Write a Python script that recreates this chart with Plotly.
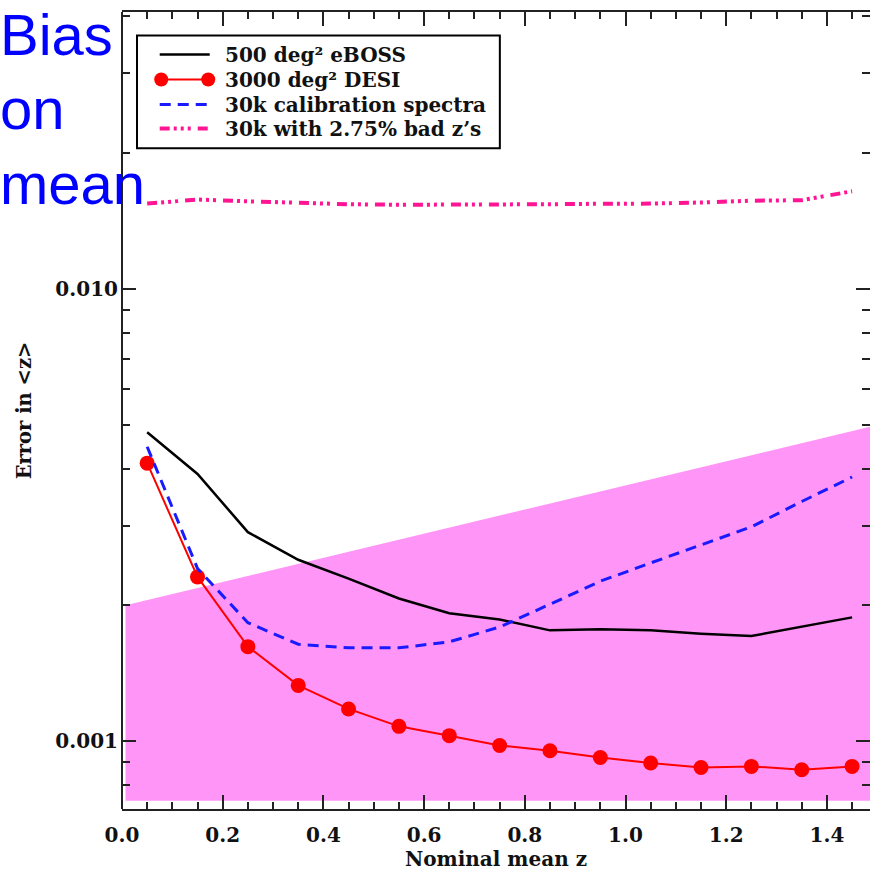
import plotly.graph_objects as go

# ---- data ----
z_nominal = [0.05, 0.15, 0.25, 0.35, 0.45, 0.55, 0.65, 0.75,
             0.85, 0.95, 1.05, 1.15, 1.25, 1.35, 1.45]

err_eboss = [0.00482, 0.00390, 0.00290, 0.00252, 0.00229, 0.00207, 0.00192, 0.00186,
             0.00176, 0.00177, 0.00176, 0.00173, 0.00171, 0.00179, 0.00188]

err_desi = [0.00412, 0.00231, 0.00162, 0.00133, 0.00118, 0.00108, 0.00103, 0.000980,
            0.000954, 0.000922, 0.000896, 0.000876, 0.000881, 0.000866, 0.000881]

err_calib = [0.00448, 0.00241, 0.00183, 0.00164, 0.00161, 0.00161, 0.00166, 0.00179,
             0.00201, 0.00226, 0.00248, 0.00272, 0.00298, 0.00339, 0.00384]

err_badz = [0.01543, 0.01575, 0.01561, 0.01549, 0.01538, 0.01534, 0.01534, 0.01534,
            0.01538, 0.01542, 0.01543, 0.01552, 0.01566, 0.01570, 0.01643]

# requirement band (polygon vertices)
band_x = [0.007, 0.007, 1.5, 1.5]
band_y = [0.00074, 0.002, 0.005, 0.00074]

x_major = [0.0, 0.2, 0.4, 0.6, 0.8, 1.0, 1.2, 1.4]
x_major_text = ["0.0", "0.2", "0.4", "0.6", "0.8", "1.0", "1.2", "1.4"]
y_major = [0.001, 0.01]
y_major_text = ["0.001", "0.010"]
y_minor = [0.0007, 0.0008, 0.0009, 0.002, 0.003, 0.004, 0.005, 0.006, 0.007,
           0.008, 0.009, 0.02, 0.03, 0.04]

legend_names = ["500 deg² eBOSS", "3000 deg² DESI",
                "30k calibration spectra", "30k with 2.75% bad z’s"]
caption_words = ["Bias", "on", "mean"]

SERIF = "DejaVu Serif"
W, H = 870, 873
L, R, T, B = 122.3, 0, 11.5, 63.7
plot_w = W - L - R
plot_h = H - T - B


def px(xp):
    return (xp - L) / plot_w


def py(yp):
    return (H - B - yp) / plot_h


fig = go.Figure()

fig.add_trace(go.Scatter(x=band_x, y=band_y, fill="toself", mode="none",
                         fillcolor="#ff96f7", showlegend=False, hoverinfo="skip"))

styles = [
    dict(mode="lines", line=dict(color="black", width=2.5)),
    dict(mode="lines+markers", line=dict(color="#ff0000", width=2),
         marker=dict(color="#ff0000", size=15)),
    dict(mode="lines", line=dict(color="#1a1aff", width=3, dash="11px,7px")),
    dict(mode="lines", line=dict(color="#ff1493", width=4,
                                 dash="10px,4px,3px,4px,3px,4px,3px,7px")),
]
series = [err_eboss, err_desi, err_calib, err_badz]
for name, ys, st in zip(legend_names, series, styles):
    fig.add_trace(go.Scatter(x=z_nominal, y=ys, name=name, showlegend=False, **st))

fig.update_layout(
    width=W, height=H,
    margin=dict(l=L, r=R, t=T, b=B, pad=0),
    paper_bgcolor="white", plot_bgcolor="white",
    font=dict(family=SERIF, size=20, color="#111", weight="bold"),
    showlegend=False,
)

fig.update_xaxes(
    range=[0, (W - L) / 503.3], showgrid=False, zeroline=False,
    showline=True, linecolor="#222", linewidth=2, mirror="allticks",
    ticks="inside", ticklen=14, tickwidth=1.5, tickcolor="#222",
    tickvals=x_major, ticktext=x_major_text, ticklabelstandoff=7,
    minor=dict(ticks="inside", ticklen=7, tickwidth=1.5, tickcolor="#222", dtick=0.05, tick0=0),
    title=dict(text="Nominal mean z", standoff=4, font=dict(size=20)),
)
fig.update_yaxes(
    type="log", range=[-3.1492, -1.3883], showgrid=False, zeroline=False,
    showline=False, mirror="allticks",
    ticks="inside", ticklen=14, tickwidth=1.5, tickcolor="#222",
    tickvals=y_major, ticktext=y_major_text, ticklabelstandoff=3,
    minor=dict(ticks="inside", ticklen=8, tickwidth=1.5, tickcolor="#222", tickvals=y_minor),
    title=dict(text="Error in &lt;z&gt;", standoff=18, font=dict(size=19.5)),
)

# left frame line
fig.add_shape(type="line", xref="paper", yref="paper", x0=0, x1=0, y0=0, y1=1,
              line=dict(color="#222", width=2))

# ---- legend box drawn by hand (IDL style) ----
fig.add_shape(type="rect", xref="paper", yref="paper",
              x0=px(137.3), x1=px(500), y0=py(148), y1=py(35),
              line=dict(color="black", width=2), fillcolor="white", layer="above")
entry_y = [54, 79, 104, 128]
for i, (name, st) in enumerate(zip(legend_names, styles)):
    yc = py(entry_y[i])
    ln = st["line"]
    fig.add_shape(type="line", xref="paper", yref="paper",
                  x0=px(160), x1=px(210), y0=yc, y1=yc,
                  line=dict(color=ln["color"], width=ln["width"], dash=ln.get("dash", "solid")))
    if "markers" in st["mode"]:
        r = 7.0
        for cx in (161.5, 208.5):
            fig.add_shape(type="circle", xref="paper", yref="paper",
                          x0=px(cx - r), x1=px(cx + r),
                          y0=py(entry_y[i] + r), y1=py(entry_y[i] - r),
                          fillcolor="#ff0000", line=dict(color="#ff0000", width=0))
    fig.add_annotation(text=name, xref="paper", yref="paper", x=px(224), xanchor="left",
                       y=py(entry_y[i] + 0.5), yanchor="middle",
                       showarrow=False, borderpad=0,
                       font=dict(family=SERIF, size=20, color="#111", weight="bold"))

# overlay caption
for i, word in enumerate(caption_words):
    fig.add_annotation(text=word, xref="paper", yref="paper",
                       x=px(-1), xanchor="left",
                       y=py(34 + 74.5 * i), yanchor="middle",
                       showarrow=False, borderpad=0,
                       font=dict(family="Liberation Sans", size=58, color="#0000ff", weight="normal"))

fig.write_html("out.html")
